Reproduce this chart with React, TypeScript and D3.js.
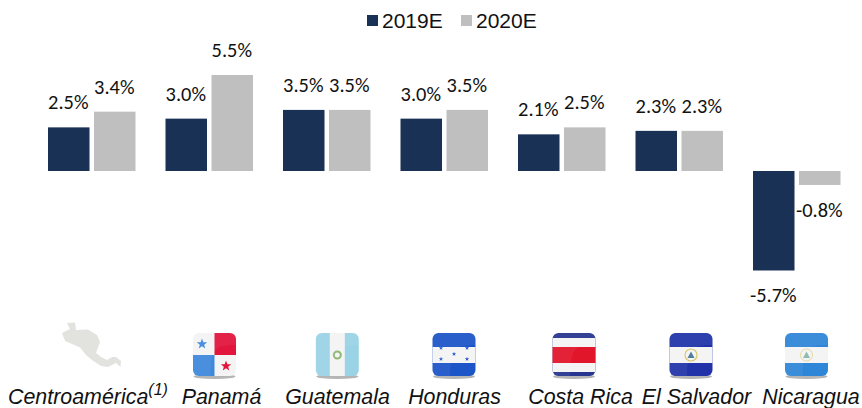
import React from 'react';
import * as d3 from 'd3';

const countries = ['Centroamérica', 'Panamá', 'Guatemala', 'Honduras', 'Costa Rica', 'El Salvador', 'Nicaragua'];
const years = ['2019E', '2020E'];
const values2019 = [2.5, 3.0, 3.5, 3.0, 2.1, 2.3, -5.7];
const values2020 = [3.4, 5.5, 3.5, 3.5, 2.5, 2.3, -0.8];

const colors = ['#1a3156', '#bfbfbf'];
const sansFont = '"Liberation Sans", Arial, sans-serif';
const labelFont = 'Carlito, Calibri, Lato, sans-serif';

// Kept apart from the data: the picture's flags and captions don't sit on the band centres
const flagCenters = [0, 214.5, 337.3, 454, 574, 691, 806.5];
const captionCenters = [0, 221.5, 337.5, 454.5, 580.5, 696.5, 811];

const mapPath =
  'M67,323 L75,322.5 L76,330 L88,329.5 L97,335 L100,342 L97,350 L96,353 L101,357 L107,360 L112,357 L116,357 L121,361 L120.5,367 L116,363 L108,367 L101,366 L92,360 L86,355 L80,347.5 L72,344 L65,341 L62,333 L70,329 Z';

function Star({ cx, cy, r, fill }: { cx: number; cy: number; r: number; fill: string }) {
  const points = d3.range(10).map(i => {
    const a = (i * Math.PI) / 5 - Math.PI / 2;
    const rr = i % 2 ? r * 0.42 : r;
    return `${cx + rr * Math.cos(a)},${cy + rr * Math.sin(a)}`;
  });
  return <polygon points={points.join(' ')} fill={fill} />;
}

function stripes(list: [string, number, number][]) {
  return list.map(([fill, y, h], i) => <rect key={i} x={-22} y={y} width={44} height={h} fill={fill} />);
}

function FlagArt({ name }: { name: string }) {
  if (name === 'Panamá') {
    return (
      <g>
        <rect x={-22} y={-22} width={44} height={44} fill="#f4f4f4" />
        <rect x={0} y={-22} width={22} height={22} fill="#e2173d" />
        <rect x={-22} y={0} width={22} height={22} fill="#3f88dc" />
        <Star cx={-12.5} cy={-11} r={5.5} fill="#3f88dc" />
        <Star cx={11.5} cy={11} r={5.5} fill="#e2173d" />
      </g>
    );
  }
  if (name === 'Guatemala') {
    return (
      <g>
        <rect x={-22} y={-22} width={44} height={44} fill="#9bd3e6" />
        <rect x={-7.5} y={-22} width={15} height={44} fill="#f4f4f4" />
        <circle cx={0} cy={0} r={3.5} fill="none" stroke="#8cb870" strokeWidth={2} />
      </g>
    );
  }
  if (name === 'Honduras') {
    const stars: [number, number][] = [[-13, -7], [13, -7], [0, -1], [-13, 4], [13, 4]];
    return (
      <g>
        {stripes([['#1f55c8', -22, 44], ['#f4f4f4', -8, 16]])}
        {stars.map(([x, y], i) => <Star key={i} cx={x} cy={y} r={2.3} fill="#2a5fd0" />)}
      </g>
    );
  }
  if (name === 'Costa Rica') {
    return <g>{stripes([['#27358f', -22, 44], ['#f4f4f4', -17, 34], ['#e2172c', -8, 16]])}</g>;
  }
  if (name === 'El Salvador') {
    return (
      <g>
        {stripes([['#2233a8', -22, 44], ['#f4f4f4', -8, 16]])}
        <circle cx={0} cy={0} r={6} fill="#f4f4f4" stroke="#d9c76a" strokeWidth={1.2} />
        <polygon points="-3.5,3 3.5,3 0,-3.5" fill="#4f7f9c" />
      </g>
    );
  }
  return (
    <g>
      {stripes([['#2f86d8', -22, 44], ['#f4f4f4', -8, 16]])}
      <circle cx={0} cy={0} r={6} fill="#f4f4f4" stroke="#e2d9a0" strokeWidth={1} />
      <polygon points="-3.5,3 3.5,3 0,-3.5" fill="#8fbcae" />
    </g>
  );
}

function Flag({ name, cx }: { name: string; cx: number }) {
  const id = 'clip-' + countries.indexOf(name);
  return (
    <g transform={`translate(${cx},355)`} filter="url(#soft)">
      <ellipse cx={0} cy={21.5} rx={21} ry={2.5} fill="#b5b5b5" />
      <clipPath id={id}>
        <rect x={-21.5} y={-22} width={43} height={43} rx={6} />
      </clipPath>
      <g clipPath={`url(#${id})`}>
        <FlagArt name={name} />
        <path d="M-22,-22 H22 V-10 Q4,-11 0,-4 T-4,22 H-22 Z" fill="#fff" opacity={0.06} />
      </g>
    </g>
  );
}

export default function App() {
  const width = 862;
  const height = 408;

  const x0 = d3.scaleBand<string>().domain(countries).range([48, 845]).paddingInner(25.5 / 117.5).paddingOuter(0);
  const y = d3.scaleLinear().domain([0, 5.5]).range([171, 75]);
  const barWidth = 41.5;
  const barOffset = 46;

  const series = [values2019, values2020];

  return (
    <svg width={width} height={height} style={{ position: 'absolute', left: 0, top: 0, background: '#fff' }}>
      <defs>
        <filter id="soft" x="-10%" y="-10%" width="120%" height="120%">
          <feGaussianBlur stdDeviation="0.7" />
        </filter>
      </defs>

      {/* legend */}
      {years.map((year, i) => (
        <g key={year} transform={`translate(${367 + i * 94},0)`}>
          <rect x={0} y={15} width={11} height={11} fill={colors[i]} />
          <text x={15} y={28} fontFamily={sansFont} fontSize={21} fill="#111">{year}</text>
        </g>
      ))}

      {/* bars and value labels */}
      {series.map((values, s) =>
        values.map((v, i) => {
          const left = (x0(countries[i]) as number) + s * barOffset;
          const top = y(Math.max(v, 0));
          const bottom = y(Math.min(v, 0));
          return (
            <g key={`${s}-${i}`}>
              <rect x={left} y={top} width={barWidth} height={bottom - top} fill={colors[s]} />
              <text
                x={left + barWidth / 2 - 0.5}
                y={v >= 0 ? top - 18 : bottom + 32}
                textAnchor="middle"
                fontFamily={labelFont}
                fontSize={20.4}
                fill="#111"
              >
                {v.toFixed(1)}%
              </text>
            </g>
          );
        })
      )}

      {/* map and flags */}
      <path d={mapPath} fill="#e2e2df" filter="url(#soft)" />
      {countries.slice(1).map((name, i) => (
        <Flag key={name} name={name} cx={flagCenters[i + 1]} />
      ))}

      {/* captions */}
      <text x={8} y={404} fontFamily={sansFont} fontStyle="italic" fontSize={21.4} fill="#111">
        {countries[0]}
        <tspan fontSize={16} dy={-9}>(1)</tspan>
      </text>
      {countries.slice(1).map((name, i) => (
        <text
          key={name}
          x={captionCenters[i + 1]}
          y={404}
          textAnchor="middle"
          fontFamily={sansFont}
          fontStyle="italic"
          fontSize={21.4}
          fill="#111"
        >
          {name}
        </text>
      ))}
    </svg>
  );
}
